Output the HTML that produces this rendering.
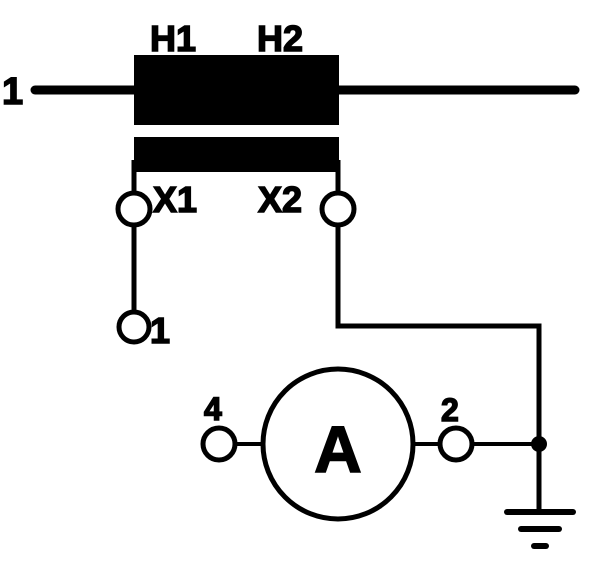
<!DOCTYPE html><html><head><style>body{margin:0;background:#fff}svg{display:block}text{font-family:"Liberation Sans",sans-serif;font-weight:bold;fill:#000;stroke:#000;stroke-width:1.5}</style></head><body>
<svg width="600" height="563" viewBox="0 0 600 563">
<g stroke="#000" stroke-linecap="round" fill="none">
<line x1="35" y1="90" x2="575" y2="90" stroke-width="9"/>
</g>
<rect x="134" y="55" width="205" height="70" fill="#000"/>
<rect x="134" y="137" width="205" height="35" fill="#000"/>
<g stroke="#000" stroke-width="5" fill="none">
<line x1="134" y1="160" x2="134" y2="193"/>
<line x1="338" y1="160" x2="338" y2="193"/>
<circle cx="134" cy="209" r="16" fill="#fff"/>
<circle cx="338" cy="209" r="16" fill="#fff"/>
<line x1="134" y1="225" x2="134" y2="312"/>
<circle cx="134" cy="327" r="15" fill="#fff"/>
<polyline points="338,225 338,326 539,326 539,512"/>
<circle cx="338" cy="444" r="75" fill="#fff"/>
<line x1="234" y1="444" x2="263" y2="444" stroke-width="4"/>
<line x1="413" y1="444" x2="440" y2="444" stroke-width="4"/>
<line x1="472" y1="444" x2="539" y2="444" stroke-width="4"/>
<circle cx="219" cy="444" r="16" fill="#fff"/>
<circle cx="456" cy="444" r="16" fill="#fff"/>
</g>
<circle cx="539" cy="444" r="8" fill="#000"/>
<g stroke="#000" stroke-width="6" stroke-linecap="round">
<line x1="507" y1="512" x2="573" y2="512"/>
<line x1="521" y1="529" x2="559" y2="529"/>
<line x1="534" y1="546" x2="546" y2="546"/>
</g>
<text x="2" y="104" font-size="38">1</text>
<text x="150" y="51" font-size="36">H1</text>
<text x="257" y="51" font-size="36">H2</text>
<text x="153" y="212" font-size="36">X1</text>
<text x="258" y="212" font-size="36">X2</text>
<text x="150" y="343" font-size="36">1</text>
<text x="204" y="420" font-size="32">4</text>
<text x="441" y="421" font-size="32">2</text>
<text x="338" y="472" font-size="66" text-anchor="middle">A</text>
</svg></body></html>
